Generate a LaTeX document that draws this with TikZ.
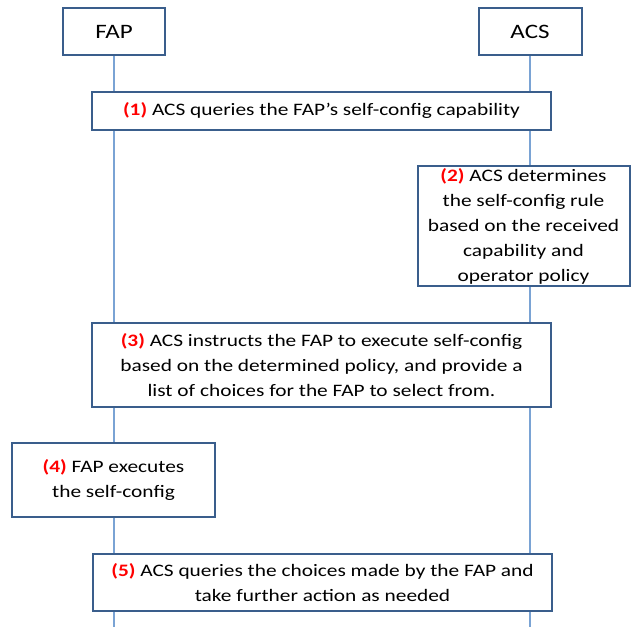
\documentclass[tikz,border=0pt]{standalone}
\usepackage{fontspec}
\setmainfont[FakeStretch=1.22]{Carlito}
\definecolor{boxline}{HTML}{3A5E8C}
\definecolor{lifeline}{HTML}{7AA3D4}
\definecolor{numred}{HTML}{FF0000}
\newcommand{\stepnum}[1]{\textcolor{numred}{\textbf{(#1)}}}
\begin{document}
\begin{tikzpicture}[x=1pt,y=-1pt,
  head/.style={draw=boxline, line width=2pt, fill=white, inner sep=0pt, font=\fontsize{20.5}{25}\selectfont},
  msgbox/.style={draw=boxline, line width=2pt, fill=white, inner sep=0pt, align=center, font=\fontsize{17.5}{25}\selectfont},
  life/.style={draw=lifeline, line width=1.2pt}]
\useasboundingbox (0,0) rectangle (631,627);
\node[head, minimum width=102pt, minimum height=47pt] (fap) at (114,31.5) {FAP};
\node[head, minimum width=103pt, minimum height=47pt] (acs) at (530,31.5) {ACS};
\coordinate (fapend) at (114,627);
\coordinate (acsend) at (530,627);
\draw[life] (fap.south) -- (fapend);
\draw[life] (acs.south) -- (acsend);
\node[msgbox, minimum width=459pt, minimum height=38pt] (s1) at (321.5,111) {\stepnum{1} ACS queries the FAP’s self-config capability};
\node[msgbox, minimum width=212pt, minimum height=120pt] (s2) at (523.5,226) {\stepnum{2} ACS determines\\the self-config rule\\based on the received\\capability and\\operator policy};
\node[msgbox, minimum width=459pt, minimum height=84pt] (s3) at (321.5,365) {\stepnum{3} ACS instructs the FAP to execute self-config\\based on the determined policy, and provide a\\list of choices for the FAP to select from.};
\node[msgbox, minimum width=203pt, minimum height=74pt] (s4) at (113.5,480) {\stepnum{4} FAP executes\\the self-config};
\node[msgbox, minimum width=459pt, minimum height=57pt] (s5) at (322.5,582.5) {\stepnum{5} ACS queries the choices made by the FAP and\\take further action as needed};
\end{tikzpicture}
\end{document}
